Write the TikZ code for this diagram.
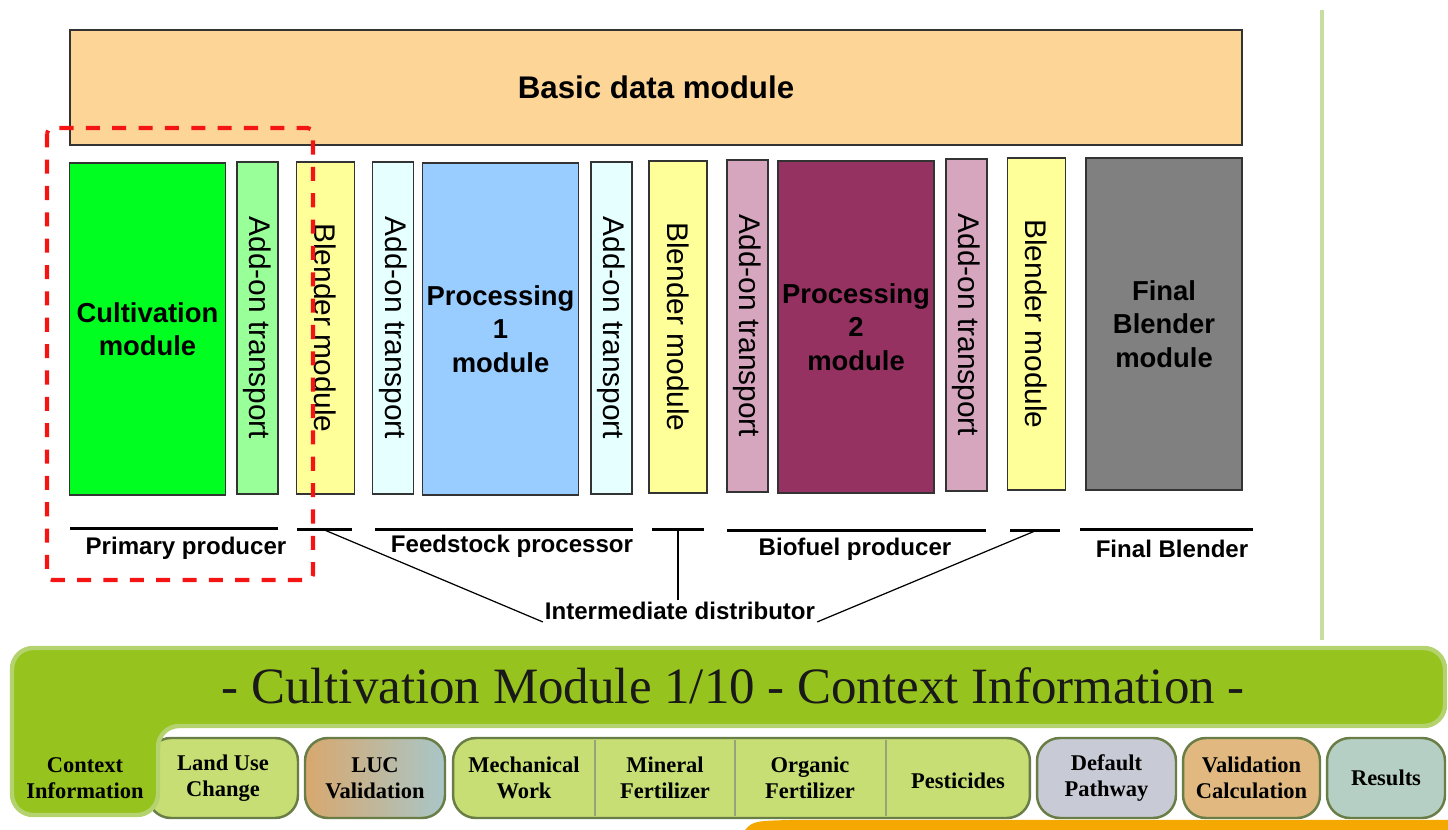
\documentclass[tikz,border=0pt]{standalone}
\usepackage{fontspec}
\usepackage{graphicx}
\setmainfont{Liberation Sans}
\newfontfamily\tabserif{Liberation Serif}
\usetikzlibrary{positioning, calc, shadings}

\definecolor{basisoranje}{RGB}{252,213,151}
\definecolor{hijaukultiv}{RGB}{0,255,32}
\definecolor{hijaumuda}{RGB}{153,255,153}
\definecolor{kuning}{RGB}{255,255,153}
\definecolor{biruputih}{RGB}{230,255,255}
\definecolor{biru}{RGB}{153,204,255}
\definecolor{mauve}{RGB}{213,166,189}
\definecolor{ungu}{RGB}{150,50,97}
\definecolor{abu}{RGB}{128,128,128}
\definecolor{merahputus}{RGB}{245,20,20}
\definecolor{banhijau}{RGB}{150,195,30}
\definecolor{bantepi}{RGB}{180,210,110}
\definecolor{tabhijau}{RGB}{198,222,116}
\definecolor{tabtepi}{RGB}{105,125,70}
\definecolor{tabjingga}{RGB}{216,168,110}
\definecolor{tabbiru}{RGB}{168,198,200}
\definecolor{tababu}{RGB}{200,202,214}
\definecolor{tabcoklat}{RGB}{224,184,128}
\definecolor{tabteal}{RGB}{182,207,196}
\definecolor{batashijau}{RGB}{200,222,160}
\definecolor{oranye}{RGB}{245,168,0}

\begin{document}
\begin{tikzpicture}[x=0.02cm, y=-0.02cm,
      blok/.style={draw=black!80, line width=0.8pt, inner sep=0pt, minimum height=6.64cm, align=center, font=\bfseries\fontsize{15.6pt}{19pt}\selectfont},
      lebar/.style={blok, minimum width=3.12cm},
      tipis/.style={blok, minimum width=0.82cm, font=\fontsize{17pt}{19pt}\selectfont},
      sedang/.style={blok, minimum width=1.16cm, font=\fontsize{17pt}{19pt}\selectfont},
      garis/.style={fill=black, inner sep=0pt, minimum height=0.06cm},
      ket/.style={inner sep=1pt, font=\bfseries\fontsize{13.7pt}{15pt}\selectfont},
      hub/.style={line width=0.7pt},
      merah/.style={draw=merahputus, line width=2.3pt, dash pattern=on 8pt off 7pt, rounded corners=3pt},
      tab/.style={draw=tabtepi, line width=1.4pt, rounded corners=13pt, minimum height=1.6cm, inner sep=0pt, align=center, font=\tabserif\bfseries\fontsize{12.8pt}{14.5pt}\selectfont},
      tabteks/.style={inner sep=0pt, align=center, font=\tabserif\bfseries\fontsize{12.8pt}{14.5pt}\selectfont},
      sekat/.style={draw=tabtepi!70, line width=1.2pt}
    ]
    \useasboundingbox (0,0) rectangle (1448,830);
    \clip (0,0) rectangle (1448,830);

    % ─── Basic data module ───────────────────────────────────────
    \node[draw=black!80, line width=0.8pt, fill=basisoranje, minimum width=23.44cm, minimum height=2.3cm, font=\bfseries\fontsize{17.8pt}{20pt}\selectfont] (basic) at (656,87.5) {Basic data module};

    % ─── Module columns ──────────────────────────────────────────
    \node[lebar, fill=hijaukultiv]  (cult)  at (147.5,329) {Cultivation\\ module};
    \node[tipis, fill=hijaumuda]    (at1)   at (257.5,328) {\rotatebox{-90}{Add-on transport}};
    \node[sedang, fill=kuning]      (bl1)   at (325.5,328) {\rotatebox{-90}{Blender module}};
    \node[tipis, fill=biruputih]    (at2)   at (393,328)   {\rotatebox{-90}{Add-on transport}};
    \node[lebar, fill=biru]         (proc1) at (500.5,329) {Processing\\ 1\\ module};
    \node[tipis, fill=biruputih]    (at3)   at (611.5,328) {\rotatebox{-90}{Add-on transport}};
    \node[sedang, fill=kuning]      (bl2)   at (678,327)   {\rotatebox{-90}{Blender module}};
    \node[tipis, fill=mauve]        (at4)   at (747.5,326) {\rotatebox{-90}{Add-on transport}};
    \node[lebar, fill=ungu]         (proc2) at (856,327)   {Processing\\ 2\\ module};
    \node[tipis, fill=mauve]        (at5)   at (966.5,325) {\rotatebox{-90}{Add-on transport}};
    \node[sedang, fill=kuning]      (bl3)   at (1036.5,324) {\rotatebox{-90}{Blender module}};
    \node[lebar, fill=abu]          (fin)   at (1164,324)  {Final\\ Blender\\ module};

    % ─── Actor bars ──────────────────────────────────────────────
    \node[garis, minimum width=4.16cm] (bprim) at (174,529)    {};
    \node[garis, minimum width=1.1cm]  (bb1)   at (324.5,530)  {};
    \node[garis, minimum width=5.16cm] (bfeed) at (504,530)    {};
    \node[garis, minimum width=1.04cm] (bb2)   at (678,530)    {};
    \node[garis, minimum width=5.18cm] (bbio)  at (856.5,531)  {};
    \node[garis, minimum width=1.0cm]  (bb3)   at (1035,531)   {};
    \node[garis, minimum width=3.46cm] (bfin)  at (1166.5,530) {};

    \node[ket] (prim)  at (186,548)  {Primary producer};
    \node[ket] (feed)  at (512,546)  {Feedstock processor};
    \node[ket] (bio)   at (855,549)  {Biofuel producer};
    \node[ket] (final) at (1172,549) {Final Blender};
    \node[ket] (inter) at (680,611)  {Intermediate distributor};

    % Blender bars -> Intermediate distributor
    \draw[hub] (bb1.center) -- (inter.south west);
    \draw[hub] (bb2.center) -- (bb2.center |- inter.north);
    \draw[hub] (bb3.center) -- (inter.south east);

    % ─── Scope of the cultivation module ─────────────────────────
    \draw[merah] (47,128) rectangle (313,580);

    % ─── Slide decoration ────────────────────────────────────────
    \draw[batashijau, line width=2pt] (1322,10) -- (1322,640);
    \fill[oranye] (742,834) .. controls (752,821) .. (790,820) -- (1450,820) -- (1450,834) -- cycle;

    % ─── Tabs ────────────────────────────────────────────────────
    \node[tab, fill=tabhijau, minimum width=3.0cm] (luc) at (223,778) {Land Use\\ Change};
    \node[tab, left color=tabjingga, right color=tabbiru, minimum width=2.8cm] (lucv) at (375,778) {LUC\\ Validation};
    \node[tab, fill=tabhijau, minimum width=11.54cm] (grp) at (741.5,778) {};
    \draw[sekat] (595,740) -- (595,816);
    \draw[sekat] (735,740) -- (735,816);
    \draw[sekat] (886,740) -- (886,816);
    \node[tabteks] (mech) at (524,778) {Mechanical\\ Work};
    \node[tabteks] (mine) at (665,778) {Mineral\\ Fertilizer};
    \node[tabteks] (org)  at (810,778) {Organic\\ Fertilizer};
    \node[tabteks] (pest) at (958,781) {Pesticides};
    \node[tab, fill=tababu, minimum width=2.78cm]   (defp) at (1106.5,778) {Default\\ Pathway};
    \node[tab, fill=tabcoklat, minimum width=2.74cm] (valc) at (1251.5,778) {Validation\\ Calculation};
    \node[tab, fill=tabteal, minimum width=2.36cm]  (res)  at (1386,778)   {Results};

    % ─── Title banner with the active tab ────────────────────────
    \draw[fill=banhijau, draw=bantepi, line width=2.5pt, rounded corners=12pt]
      (12,815) -- (12,648) -- (1445,648) -- (1445,726) -- (158,726) -- (158,815) -- cycle;
    \node[font=\tabserif\fontsize{29pt}{32pt}\selectfont, text=black!90] (judul) at (733,686) {- Cultivation Module 1/10 - Context Information -};
    \node[tabteks] (ctx) at (85,778) {Context\\ Information};

    \end{tikzpicture}
\end{document}
